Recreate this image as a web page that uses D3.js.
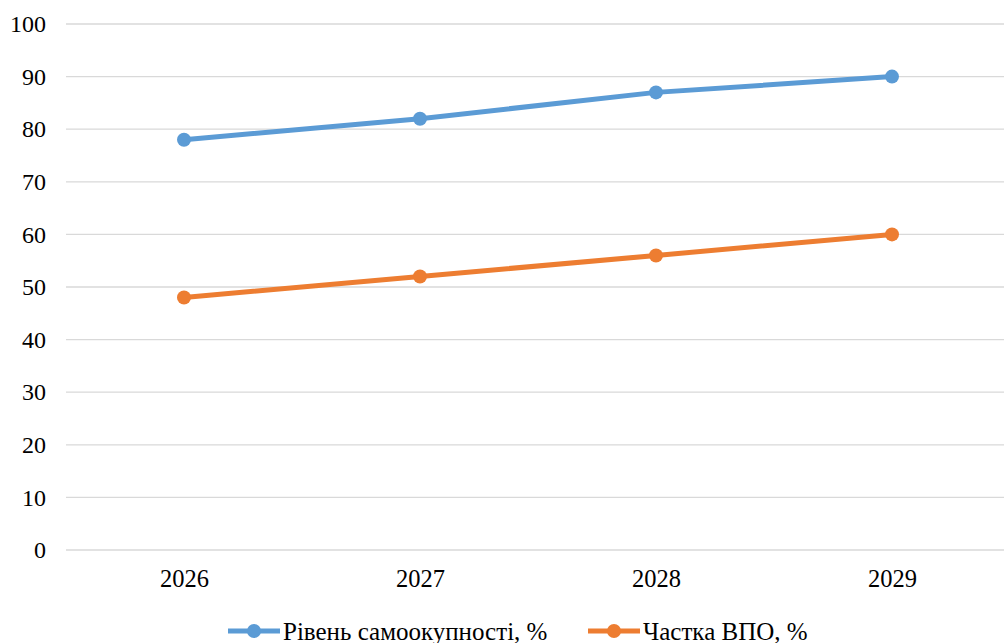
<!DOCTYPE html>
<html>
<head>
<meta charset="utf-8">
<script src="https://cdn.jsdelivr.net/npm/d3@7"></script>
<style>
  html, body { margin: 0; padding: 0; background: #fff; }
  svg { display: block; }
</style>
</head>
<body>
<svg id="chart" width="1004" height="643"></svg>
<script>
const years = ["2026", "2027", "2028", "2029"];
const selfSufficiency = [78, 82, 87, 90];
const idpShare = [48, 52, 56, 60];
const yTicks = [0, 10, 20, 30, 40, 50, 60, 70, 80, 90, 100];
const seriesNames = ["Рівень самоокупності, %", "Частка ВПО, %"];
const seriesColors = ["#5B9BD5", "#ED7D31"];

const series = [
  { name: seriesNames[0], values: selfSufficiency, color: seriesColors[0] },
  { name: seriesNames[1], values: idpShare, color: seriesColors[1] }
];

const FONT = "'Liberation Serif', 'Times New Roman', serif";
const svg = d3.select("#chart");
const plotLeft = 66, plotRight = 1010, plotTop = 24, plotBottom = 550;

const x = d3.scalePoint().domain(years).range([plotLeft, plotRight]).padding(0.5);
const y = d3.scaleLinear().domain([0, 100]).range([plotBottom, plotTop]);

// horizontal gridlines
svg.append("g")
  .selectAll("line")
  .data(yTicks)
  .join("line")
  .attr("x1", plotLeft).attr("x2", plotRight)
  .attr("y1", d => y(d)).attr("y2", d => y(d))
  .attr("stroke", "#d9d9d9").attr("stroke-width", 1.3);

// y axis labels
const yAxis = svg.append("g")
  .attr("transform", `translate(${plotLeft - 20},0)`)
  .call(d3.axisLeft(y).tickValues(yTicks).tickSize(0).tickPadding(0));
yAxis.select(".domain").remove();
yAxis.selectAll("text").attr("fill", "#000").style("font-size", "24px").style("font-family", FONT);

// x axis labels
const xAxis = svg.append("g")
  .attr("transform", `translate(0,${plotBottom})`)
  .call(d3.axisBottom(x).tickSize(0).tickPadding(20));
xAxis.select(".domain").remove();
xAxis.selectAll("text").attr("fill", "#000").style("font-size", "24.5px").style("font-family", FONT);

// series lines with markers
const line = d3.line().x((d, i) => x(years[i])).y(d => y(d));
series.forEach(s => {
  svg.append("path")
    .datum(s.values)
    .attr("d", line)
    .attr("fill", "none")
    .attr("stroke", s.color)
    .attr("stroke-width", 5)
    .attr("stroke-linejoin", "round")
    .attr("stroke-linecap", "round");
  svg.append("g")
    .selectAll("circle")
    .data(s.values)
    .join("circle")
    .attr("cx", (d, i) => x(years[i]))
    .attr("cy", d => y(d))
    .attr("r", 7)
    .attr("fill", s.color);
});

// legend (runs off the bottom edge of the canvas)
const legendY = 631;
const legendX = [228, 588];
series.forEach((s, i) => {
  const g = svg.append("g").attr("transform", `translate(${legendX[i]},${legendY})`);
  g.append("line").attr("x1", 0).attr("x2", 52).attr("y1", 0).attr("y2", 0)
    .attr("stroke", s.color).attr("stroke-width", 5);
  g.append("circle").attr("cx", 26).attr("cy", 0).attr("r", 7).attr("fill", s.color);
  g.append("text").attr("x", 55).attr("y", 0).attr("dy", "0.35em")
    .attr("fill", "#000")
    .style("font-size", "25px").style("font-family", FONT).text(s.name);
});
</script>
</body>
</html>
